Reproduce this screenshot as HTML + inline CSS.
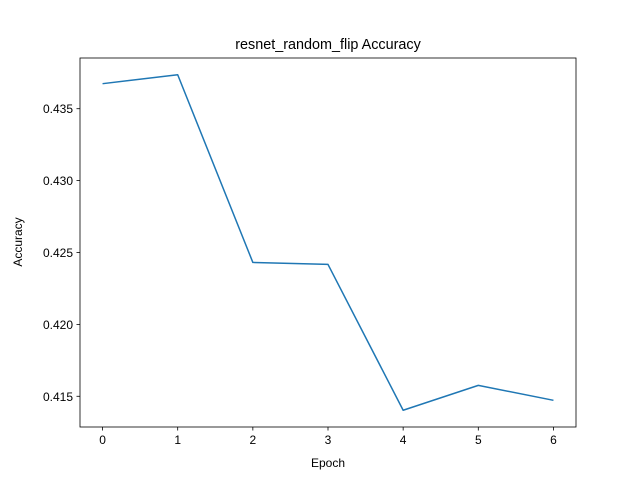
<!DOCTYPE html>
<html><head><meta charset="utf-8"><style>
body{margin:0;background:#fff;}
svg text{font-family:"Liberation Sans","DejaVu Sans",sans-serif;fill:#000;}
</style></head><body>
<svg id="chart" width="640" height="480">
<rect width="640" height="480" fill="#fff"/>
<text x="328" y="49" font-size="14.4" text-anchor="middle">resnet_random_flip Accuracy</text>
<g id="axes"></g>
<text x="328" y="467" font-size="12" text-anchor="middle">Epoch</text>
<text x="22" y="242" font-size="12" text-anchor="middle" transform="rotate(-90 22 242)">Accuracy</text>
</svg>
<script>
const epochs=[0,1,2,3,4,5,6];
const accuracy=[0.43674,0.43736,0.42431,0.42417,0.41403,0.41576,0.41472];
const yTicks=[0.415,0.420,0.425,0.430,0.435];
const xTicks=[0,1,2,3,4,5,6];
const L=80,R=576,T=58,B=427;
const xmin=-0.3,xmax=6.3;
const dmin=Math.min(...accuracy),dmax=Math.max(...accuracy),pad=(dmax-dmin)*0.05;
const ymin=dmin-pad,ymax=dmax+pad;
const sx=v=>L+(v-xmin)/(xmax-xmin)*(R-L);
const sy=v=>B-(v-ymin)/(ymax-ymin)*(B-T);
const NS="http://www.w3.org/2000/svg";
const g=document.getElementById('axes');
function mk(t,a){const e=document.createElementNS(NS,t);for(const k in a)e.setAttribute(k,a[k]);g.appendChild(e);return e;}
xTicks.forEach(v=>{
 const l=mk('line',{x1:sx(v),x2:sx(v),y1:B,y2:B+3.5,stroke:'#000','stroke-width':0.8});
 
 
 const t=mk('text',{x:sx(v),y:B+17,'font-size':12,'text-anchor':'middle'});t.textContent=v;
 
 
});
yTicks.forEach(v=>{
 const l=mk('line',{x1:L-3.5,x2:L,y1:sy(v),y2:sy(v),stroke:'#000','stroke-width':0.8});
 
 
 const t=mk('text',{x:L-7,y:sy(v)+4.5,'font-size':12,'text-anchor':'end'});t.textContent=v.toFixed(3);
 
 
});
const p=mk('polyline',{points:epochs.map((e,i)=>sx(e)+','+sy(accuracy[i])).join(' '),fill:'none',stroke:'#1f77b4','stroke-width':1.5,'stroke-linejoin':'round'});


const f=mk('rect',{x:L,y:T,width:R-L,height:B-T,fill:'none',stroke:'#000','stroke-width':0.8});


</script>
</body></html>
